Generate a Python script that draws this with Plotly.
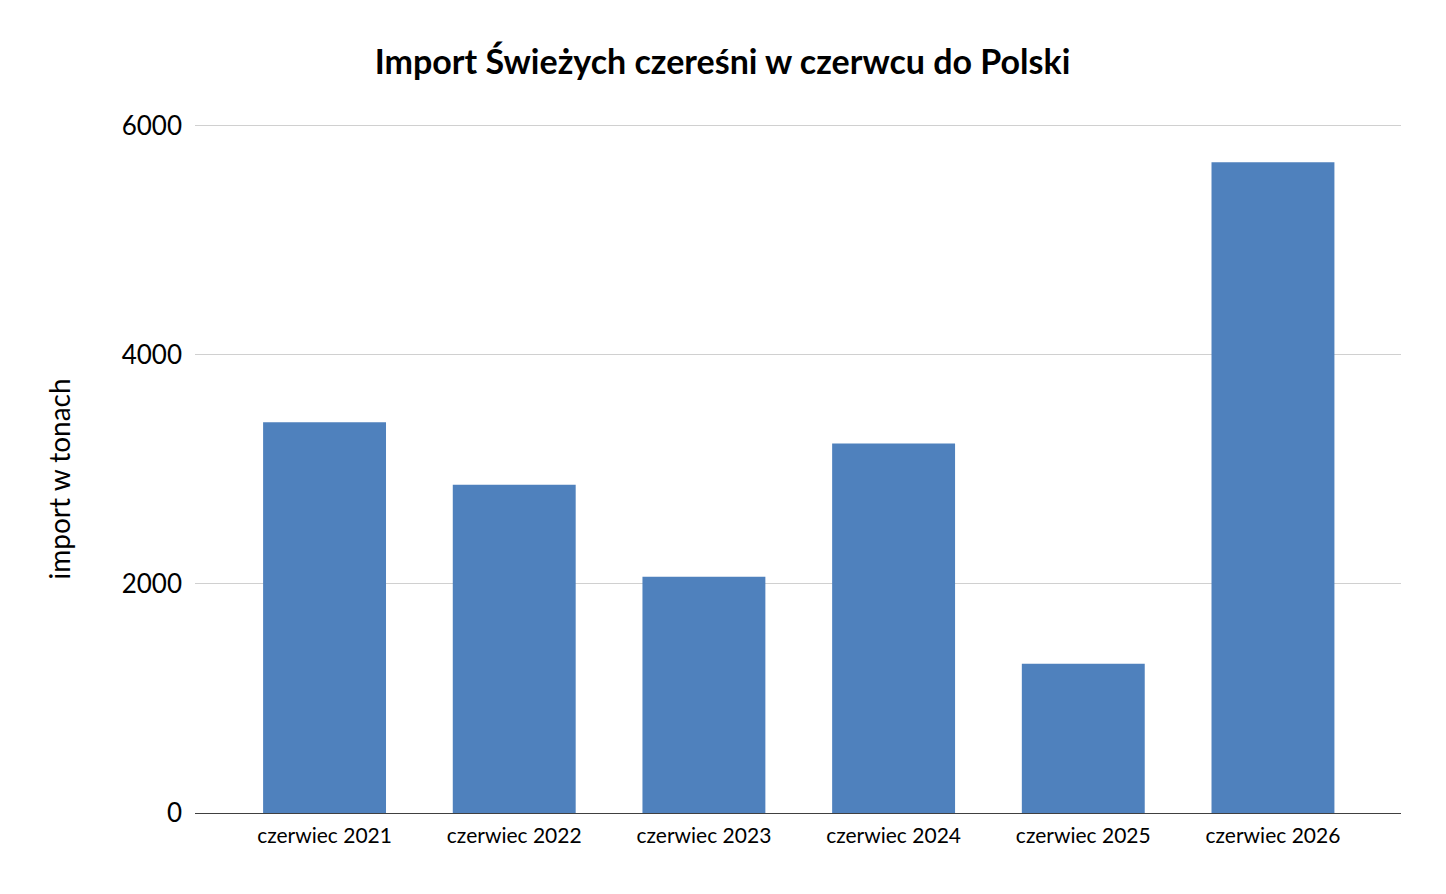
import plotly.graph_objects as go

categories = ["czerwiec 2021", "czerwiec 2022", "czerwiec 2023", "czerwiec 2024", "czerwiec 2025", "czerwiec 2026"]
values = [3410, 2865, 2062, 3224, 1302, 5678]
y_ticks = [0, 2000, 4000, 6000]

W, H = 1446, 894
L, R, T, B = 187, 53, 114, 89

fig = go.Figure(go.Bar(x=categories, y=values, marker=dict(color="#4F81BD", line=dict(width=0))))

fig.update_layout(
    width=W, height=H,
    paper_bgcolor="white", plot_bgcolor="white",
    margin=dict(l=L, r=R, t=T, b=B),
    bargap=0.352,
    showlegend=False,
    title=dict(text="<b>Import Świeżych czereśni w czerwcu do Polski</b>", x=714.5 / W, xanchor="center",
               y=1 - 54 / H, yanchor="middle", font=dict(family="Lato", size=34, color="black")),
    font=dict(family="Lato", color="black"),
)
fig.add_annotation(text="import w tonach", textangle=-90, xref="paper", yref="paper",
                   x=(50 - L) / (W - L - R), y=1 - (471.5 - T) / (H - T - B),
                   xanchor="center", yanchor="middle", showarrow=False,
                   font=dict(family="Lato", size=28, color="black"))
fig.update_xaxes(showline=True, linecolor="#404040", linewidth=1, ticks="", tickfont=dict(size=21),
                 showgrid=False, range=[-0.683, 5.675], ticklabelstandoff=4)
fig.update_yaxes(range=[0, 6030], tickvals=y_ticks, showgrid=True, gridcolor="#d0d0d0", gridwidth=1,
                 zeroline=False, showline=False, tickfont=dict(size=26), ticklabelstandoff=12)

fig.write_html("out.html")
